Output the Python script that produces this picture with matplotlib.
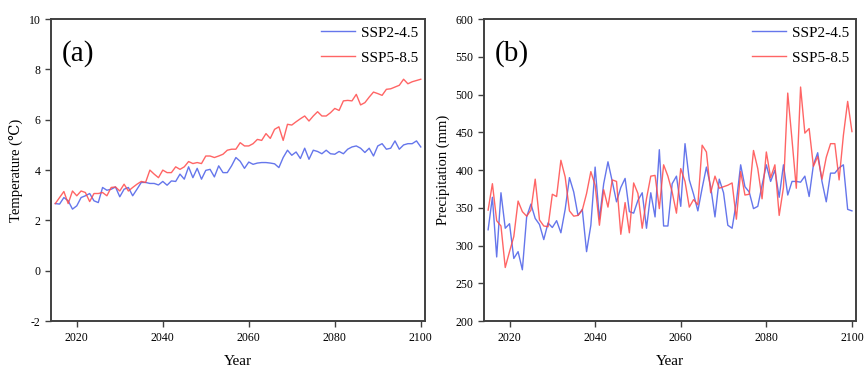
import numpy as np
import matplotlib
matplotlib.use("Agg")
from matplotlib import pyplot as plt

plt.rcParams['font.family'] = ['Liberation Serif', 'DejaVu Serif']
plt.rcParams['axes.unicode_minus'] = False

years = np.arange(2015, 2101)

temp_ssp245 = [2.67, 2.65, 2.91, 2.78, 2.45, 2.58, 2.91, 2.98, 3.07, 2.78, 2.71, 3.31, 3.20, 3.24,
               3.33, 2.94, 3.24, 3.31, 2.98, 3.24, 3.51, 3.51, 3.47, 3.47, 3.41, 3.55, 3.40, 3.57,
               3.55, 3.84, 3.64, 4.13, 3.70, 4.07, 3.64, 3.99, 4.03, 3.73, 4.17, 3.90, 3.90, 4.17,
               4.50, 4.35, 4.07, 4.32, 4.23, 4.28, 4.30, 4.30, 4.28, 4.25, 4.10, 4.50, 4.79, 4.59,
               4.72, 4.46, 4.87, 4.43, 4.79, 4.74, 4.65, 4.79, 4.65, 4.63, 4.74, 4.65, 4.83, 4.92,
               4.96, 4.87, 4.70, 4.87, 4.56, 4.96, 5.05, 4.83, 4.87, 5.16, 4.83, 5.00, 5.05, 5.05,
               5.16, 4.92]
temp_ssp585 = [2.67, 2.91, 3.15, 2.67, 3.17, 2.98, 3.17, 3.11, 2.75, 3.07, 3.07, 3.11, 2.98, 3.31,
               3.33, 3.17, 3.44, 3.17, 3.31, 3.44, 3.55, 3.51, 4.00, 3.84, 3.70, 4.00, 3.90, 3.90,
               4.13, 4.03, 4.13, 4.34, 4.26, 4.30, 4.26, 4.56, 4.56, 4.50, 4.56, 4.63, 4.79, 4.83,
               4.83, 5.09, 4.96, 4.96, 5.05, 5.22, 5.18, 5.45, 5.26, 5.62, 5.72, 5.18, 5.82, 5.79,
               5.92, 6.04, 6.15, 5.95, 6.15, 6.32, 6.15, 6.15, 6.28, 6.45, 6.37, 6.75, 6.77, 6.75,
               7.01, 6.59, 6.68, 6.90, 7.10, 7.04, 6.97, 7.21, 7.23, 7.30, 7.37, 7.61, 7.43, 7.51,
               7.56, 7.61]

prec_ssp245 = [321, 364, 285, 370, 323, 329, 283, 292, 268, 338, 355, 336, 328, 308, 330, 324,
               333, 317, 348, 390, 371, 340, 348, 292, 327, 404, 335, 382, 411, 385, 358, 377,
               389, 345, 343, 360, 370, 323, 370, 338, 427, 326, 326, 382, 392, 352, 435, 387,
               368, 346, 376, 404, 378, 338, 388, 370, 327, 323, 358, 407, 378, 371, 349, 352,
               380, 407, 385, 400, 364, 407, 367, 385, 385, 384, 392, 365, 407, 423, 385, 358,
               396, 396, 403, 407, 348, 346]
prec_ssp585 = [347, 382, 333, 326, 271, 292, 312, 359, 345, 339, 347, 388, 334, 326, 325, 368,
               365, 413, 391, 346, 339, 340, 347, 369, 398, 380, 327, 374, 351, 387, 385, 315,
               357, 317, 383, 369, 323, 362, 392, 393, 349, 407, 392, 371, 343, 402, 385, 351,
               361, 354, 433, 424, 370, 392, 376, 378, 380, 383, 335, 398, 367, 368, 426, 402,
               362, 424, 390, 407, 340, 377, 502, 440, 376, 510, 449, 455, 405, 418, 388, 417,
               435, 435, 387, 446, 491, 451]

series_labels = ['SSP2-4.5', 'SSP5-8.5']
xticks = [2020, 2040, 2060, 2080, 2100]

BLUE = '#4a5ee8'
RED = '#ff4a4a'

fig = plt.figure(figsize=(8.64, 3.67), dpi=100)
ax1 = fig.add_axes([0.059, 0.125, 0.433, 0.823])
ax2 = fig.add_axes([0.560, 0.125, 0.431, 0.823])


def style(ax):
    for s in ax.spines.values():
        s.set_linewidth(1.4)
        s.set_color('#404040')
    ax.tick_params(direction='out', length=4, width=1.0, labelsize=8.5,
                   top=False, right=False, color='#404040')
    ax.set_xticks(xticks)
    ax.set_xlim(2014, 2101)
    ax.set_xlabel('Year', fontsize=11, labelpad=8)


def add_legend(ax):
    ax.legend(loc='upper right', frameon=False, fontsize=11, handlelength=2.2,
              handletextpad=0.4, borderaxespad=0.05, labelspacing=0.75)


ax1.plot(years, temp_ssp245, color=BLUE, lw=1.0, alpha=0.85, label=series_labels[0])
ax1.plot(years, temp_ssp585, color=RED, lw=1.0, alpha=0.85, label=series_labels[1])
ax1.set_ylim(-2, 10)
ax1.set_yticks(range(-2, 11, 2))
ax1.set_ylabel('Temperature (℃)', fontsize=10.5)
style(ax1)
ax1.text(0.03, 0.93, '(a)', transform=ax1.transAxes, fontsize=21, va='top')
add_legend(ax1)

ax2.plot(years, prec_ssp245, color=BLUE, lw=1.0, alpha=0.85, label=series_labels[0])
ax2.plot(years, prec_ssp585, color=RED, lw=1.0, alpha=0.85, label=series_labels[1])
ax2.set_ylim(200, 600)
ax2.set_yticks(range(200, 601, 50))
ax2.set_ylabel('Precipitation (mm)', fontsize=10.5)
style(ax2)
ax2.text(0.03, 0.93, '(b)', transform=ax2.transAxes, fontsize=21, va='top')
add_legend(ax2)

plt.savefig('out.png', dpi=100)
